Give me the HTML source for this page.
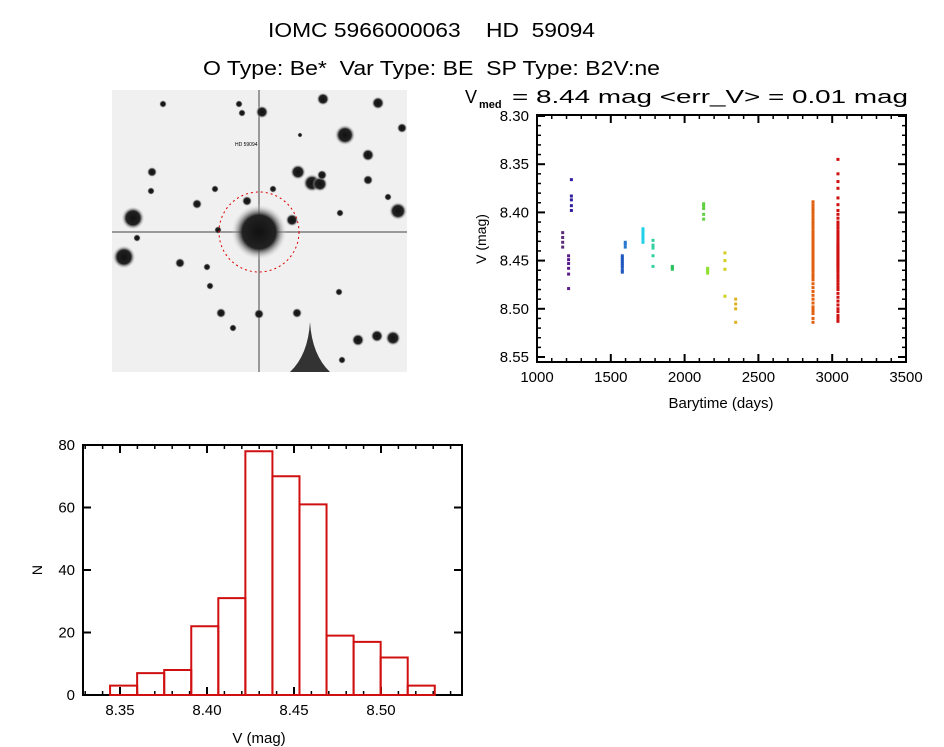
<!DOCTYPE html>
<html><head><meta charset="utf-8"><style>
body{margin:0;background:#fff;width:944px;height:747px;overflow:hidden;font-family:"Liberation Sans",sans-serif}
svg{position:absolute;left:0;top:0}
text{font-family:"Liberation Sans",sans-serif;fill:#000;white-space:pre}
</style></head><body>
<svg id="s" width="944" height="747">
<text x="268" y="37" font-size="20" textLength="327" lengthAdjust="spacingAndGlyphs">IOMC 5966000063    HD  59094</text>
<text x="203" y="75" font-size="20" textLength="457" lengthAdjust="spacingAndGlyphs">O Type: Be*  Var Type: BE  SP Type: B2V:ne</text>
<g>
<text x="465" y="103" font-size="18">V</text>
<text x="479" y="108" font-size="11" font-weight="bold">med</text>
<text x="512" y="103" font-size="18" textLength="396" lengthAdjust="spacingAndGlyphs">= 8.44 mag &lt;err_V&gt; = 0.01 mag</text>
</g>
<g id="img"></g>
<g id="sc"></g>
<g id="hi"></g>
</svg>
<script>
// ---- light curve data ----
const groupTimes=[1174,1214,1233,1578,1598,1718,1786,1917,2129,2156,2273,2346,2870,3039];
const groupColors=["#5a2a78","#5a1a8a","#3020a0","#2058c0","#2878d0","#20d0e8","#30d0a0","#30c060","#60d040","#90e030","#d0d020","#e0b020","#e06010","#d01010"];
const groupMags=[
[8.421,8.426,8.431,8.436],
[8.445,8.449,8.453,8.458,8.464,8.479],
[8.366,8.383,8.387,8.393,8.398],
[8.445,8.447,8.449,8.451,8.453,8.455,8.457,8.460,8.462],
[8.431,8.433,8.436],
[8.417,8.419,8.421,8.423,8.425,8.428,8.431],
[8.429,8.434,8.437,8.445,8.456],
[8.456,8.457,8.458,8.459],
[8.391,8.393,8.396,8.402,8.407],
[8.458,8.460,8.461,8.463],
[8.442,8.450,8.459,8.487],
[8.490,8.495,8.500,8.514],
[8.389,8.392,8.395,8.398,8.401,8.404,8.407,8.410,8.413,8.416,8.419,8.421,8.423,8.425,8.427,8.429,8.431,8.433,8.435,8.437,8.439,8.441,8.443,8.445,8.447,8.449,8.451,8.453,8.455,8.457,8.459,8.461,8.464,8.467,8.470,8.474,8.478,8.482,8.486,8.490,8.494,8.498,8.500,8.502,8.505,8.510,8.514],
[8.345,8.360,8.368,8.375,8.385,8.392,8.398,8.402,8.406,8.410,8.413,8.416,8.419,8.421,8.423,8.425,8.427,8.429,8.431,8.433,8.434,8.435,8.436,8.437,8.438,8.439,8.440,8.441,8.442,8.443,8.444,8.445,8.446,8.447,8.448,8.449,8.450,8.451,8.452,8.453,8.454,8.455,8.456,8.457,8.458,8.460,8.462,8.465,8.468,8.471,8.474,8.477,8.480,8.484,8.488,8.492,8.496,8.500,8.503,8.507,8.510,8.513]
];
const scXTicks=[1000,1500,2000,2500,3000,3500];
const scYTicks=[8.30,8.35,8.40,8.45,8.50,8.55];
// ---- histogram data ----
const binStart=8.3443, binWidth=0.01555;
const binCounts=[3,7,8,22,31,78,70,61,19,17,12,3];
const hiXTicks=[8.35,8.40,8.45,8.50];
const hiYTicks=[0,20,40,60,80];

const NS="http://www.w3.org/2000/svg";
function mk(p,t,a){const e=document.createElementNS(NS,t);for(const k in a)e.setAttribute(k,a[k]);p.appendChild(e);return e;}

// ---- star field ----
const img=document.getElementById('img');
const defs=mk(img,'defs',{});
const rg=mk(defs,'radialGradient',{id:'sg'});
mk(rg,'stop',{offset:'0','stop-color':'#111'});
mk(rg,'stop',{offset:'0.6','stop-color':'#222'});
mk(rg,'stop',{offset:'1','stop-color':'#eee','stop-opacity':'0'});
mk(img,'rect',{x:112,y:90,width:295,height:282,fill:'#f0f0f0'});
const stars=[[323,99,5],[378,103,5],[262,112,5],[242,113,3],[345,135,8],[402,128,4],[368,155,5],[298,172,6],[312,183,7],[320,184,6],[322,175,4],[152,172,4],[368,180,4],[133,218,9],[398,211,7],[124,257,9],[197,204,4],[247,201,4],[273,189,3],[215,189,3],[292,220,5],[218,230,3],[137,238,3],[180,263,4],[207,267,3],[210,286,3],[221,313,4],[259,314,4],[297,313,4],[233,328,3],[358,340,5],[377,336,5],[393,338,6],[342,360,3],[388,197,3],[339,292,3],[340,213,3],[151,191,3],[163,104,3],[239,104,3],[300,135,2]];
const sg=mk(img,'g',{});


mk(sg,'rect',{x:258,y:90,width:2,height:282,fill:'#999'});
mk(sg,'rect',{x:112,y:231,width:295,height:2,fill:'#999'});
mk(sg,'circle',{cx:259,cy:232,r:28,fill:'url(#sg)'});
mk(sg,'path',{d:'M290,372 Q308,355 310,322 Q312,355 330,372Z',fill:'#333'});
stars.forEach(s=>mk(sg,'circle',{cx:s[0],cy:s[1],r:s[2]*1.3,fill:'url(#sg)'}));
const rc=mk(img,'circle',{cx:259,cy:232,r:40,fill:'none',stroke:'#d00','stroke-width':1,'stroke-dasharray':'2,3'});


mk(img,'text',{x:235,y:146,'font-size':5,fill:'#c00'}).textContent='HD 59094';

// ---- axes helper ----
function axes(g,x0,x1,y0,y1,xt,yt,xs,ys,xm,ym,xf,yf){
  mk(g,'rect',{x:x0,y:y0,width:x1-x0,height:y1-y0,fill:'none',stroke:'#000','stroke-width':2});
  xt.forEach(v=>{const x=xs(v);mk(g,'line',{x1:x,x2:x,y1:y1,y2:y1-8,stroke:'#000','stroke-width':2});mk(g,'line',{x1:x,x2:x,y1:y0,y2:y0+8,stroke:'#000','stroke-width':2});
    const t=mk(g,'text',{x:x,y:y1+20,'font-size':15,'text-anchor':'middle'});t.textContent=xf(v);});
  xm.forEach(v=>{const x=xs(v);mk(g,'line',{x1:x,x2:x,y1:y1,y2:y1-4,stroke:'#000','stroke-width':1.5});mk(g,'line',{x1:x,x2:x,y1:y0,y2:y0+4,stroke:'#000','stroke-width':1.5});});
  yt.forEach(v=>{const y=ys(v);mk(g,'line',{x1:x0,x2:x0+8,y1:y,y2:y,stroke:'#000','stroke-width':2});mk(g,'line',{x1:x1,x2:x1-8,y1:y,y2:y,stroke:'#000','stroke-width':2});
    const t=mk(g,'text',{x:x0-8,y:y+5,'font-size':15,'text-anchor':'end'});t.textContent=yf(v);});
  ym.forEach(v=>{const y=ys(v);mk(g,'line',{x1:x0,x2:x0+4,y1:y,y2:y,stroke:'#000','stroke-width':1.5});mk(g,'line',{x1:x1,x2:x1-4,y1:y,y2:y,stroke:'#000','stroke-width':1.5});});
}

// ---- scatter ----
const sc=document.getElementById('sc');
const sx=v=>537+(v-1000)/2500*369, sy=v=>116+(v-8.30)/0.25*241;
const xm=[];for(let v=1100;v<3500;v+=100)if(v%500)xm.push(v);
const ym=[];for(let i=0;i<=25;i++){if(i%5)ym.push(8.30+i*0.01);}
axes(sc,537,906,115,362,scXTicks,scYTicks,sx,sy,xm,ym,v=>v,v=>v.toFixed(2));
groupMags.forEach((arr,gi)=>arr.forEach(m=>{
  const r=mk(sc,'rect',{x:sx(groupTimes[gi])-1.5,y:sy(m)-1.5,width:3,height:3,fill:groupColors[gi]});
  
  
}));
mk(sc,'text',{x:721,y:408,'font-size':15,'text-anchor':'middle'}).textContent='Barytime (days)';
mk(sc,'text',{x:0,y:0,'font-size':14,'text-anchor':'middle',transform:'translate(486,239) rotate(-90)'}).textContent='V (mag)';

// ---- histogram ----
const hi=document.getElementById('hi');
const hx=v=>120+(v-8.35)/0.05*87, hy=v=>695-v*250/80;
const hm=[];for(let i=-2;i<=20;i++){if(i%5)hm.push(8.35+i*0.01);}
axes(hi,83,462,445,695,hiXTicks,hiYTicks,hx,hy,hm.filter(v=>hx(v)>84&&hx(v)<461),[],v=>v.toFixed(2),v=>v);
binCounts.forEach((c,i)=>{
  const a=hx(binStart+i*binWidth),b=hx(binStart+(i+1)*binWidth);
  const r=mk(hi,'rect',{x:a,y:hy(c),width:b-a,height:695-hy(c),fill:'none',stroke:'#d01010','stroke-width':2});
  
  
});
mk(hi,'text',{x:259,y:743,'font-size':15,'text-anchor':'middle'}).textContent='V (mag)';
mk(hi,'text',{x:0,y:0,'font-size':14,'text-anchor':'middle',transform:'translate(42,570) rotate(-90)'}).textContent='N';
</script>
</body></html>
